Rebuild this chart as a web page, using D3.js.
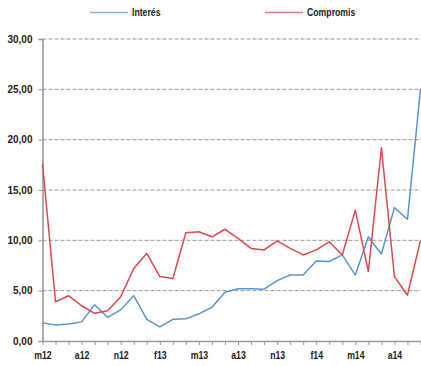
<!DOCTYPE html>
<html lang="en">
<head>
  <meta charset="utf-8" />
  <title>Interés / Compromis</title>
  <script src="https://cdn.jsdelivr.net/npm/d3@7"></script>
  <style>
body{
  margin: 0;
  background: #ffffff;
}
svg text{
  fill: #222;
}
.narrow{
  font-family: "Liberation Sans", Arial, sans-serif;
  font-weight: bold;
}
  </style>
</head>
<body>
  <svg></svg>
  <script>
  // one point per month, May 2012 .. October 2014
  var tickLabels = ['m12', 'a12', 'n12', 'f13', 'm13', 'a13', 'n13', 'f14', 'm14', 'a14'];
  var interes = [1.8, 1.6, 1.7, 1.9, 3.6, 2.35, 3.1, 4.5, 2.15, 1.4,
                 2.15, 2.2, 2.7, 3.35, 4.85, 5.2, 5.2, 5.15, 6.0, 6.55,
                 6.55, 7.95, 7.9, 8.55, 6.55, 10.35, 8.65, 13.25, 12.1, 25.0];
  var compromis = [17.6, 3.9, 4.5, 3.5, 2.75, 3.0, 4.4, 7.2, 8.7, 6.4,
                   6.2, 10.75, 10.85, 10.35, 11.1, 10.2, 9.2, 9.05, 9.95, 9.2,
                   8.55, 9.05, 9.85, 8.55, 13.0, 6.9, 19.2, 6.4, 4.55, 10.0];
  var yTicks = [0, 5, 10, 15, 20, 25, 30];

  var width = 421, height = 366;
  var squeeze = 0.83; // no Arial Narrow here, so squash the bold sans

  var svg = d3.select('svg')
      .attr('width', width)
      .attr('height', height);

  var x = d3.scaleLinear().domain([0, interes.length - 1]).range([42.5, 420.5]);
  var y = d3.scaleLinear().domain([0, 30]).range([341, 39]);

  var fmt = d => d3.format('.2f')(d).replace('.', ',');

  // dashed grid
  svg.append('g')
    .selectAll('line')
    .data(yTicks.filter(d => d > 0))
    .enter().append('line')
      .attr('x1', x(0))
      .attr('x2', width)
      .attr('y1', d => y(d))
      .attr('y2', d => y(d))
      .attr('stroke', '#9a9a9a')
      .attr('stroke-width', 1)
      .attr('stroke-dasharray', '4,2');

  // y axis
  var yAxis = svg.append('g')
      .attr('transform', 'translate(' + x(0) + ',0)')
      .call(d3.axisLeft(y).tickValues(yTicks).tickSize(4).tickPadding(6).tickFormat(fmt));
  yAxis.select('.domain').attr('stroke', '#999').attr('stroke-width', 1.6);
  yAxis.selectAll('.tick line').attr('stroke', '#999');
  yAxis.selectAll('text')
      .attr('font-family', '"Liberation Sans", Arial, sans-serif')
      .attr('font-weight', 'bold')
      .attr('font-size', 10)
      .attr('fill', '#222');

  // x axis
  var xAxis = svg.append('g')
      .attr('transform', 'translate(0,' + y(0) + ')')
      .call(d3.axisBottom(x)
        .tickValues(d3.range(interes.length))
        .tickSize(4)
        .tickSizeOuter(0)
        .tickFormat(i => i % 3 === 0 ? tickLabels[i / 3] : ''));
  xAxis.select('.domain').attr('stroke', '#999').attr('stroke-width', 1.6);
  xAxis.selectAll('.tick line').attr('stroke', '#999');
  xAxis.selectAll('text')
      .attr('class', 'narrow')
      .attr('font-size', 10.5)
      .attr('dy', '1.05em')
      .attr('transform', 'scale(' + squeeze + ',1)')
      .attr('fill', '#222');

  var line = d3.line()
      .x((d, i) => x(i))
      .y(d => y(d));

  var series = [
    {name: 'Interés', values: interes, color: '#5b96d0', lx: 90},
    {name: 'Compromis', values: compromis, color: '#e0474c', lx: 265}
  ];

  svg.append('g')
    .selectAll('path')
    .data(series)
    .enter().append('path')
      .attr('d', d => line(d.values))
      .attr('fill', 'none')
      .attr('stroke', d => d.color)
      .attr('stroke-width', 1.5)
      .attr('stroke-linejoin', 'round');

  // legend
  var legend = svg.append('g')
    .selectAll('g')
    .data(series)
    .enter().append('g')
      .attr('transform', d => 'translate(' + d.lx + ',12.5)');

  legend.append('line')
      .attr('x1', 0)
      .attr('x2', 38)
      .attr('stroke', d => d.color)
      .attr('stroke-opacity', 0.7)
      .attr('stroke-width', 1.5);

  legend.append('text')
      .attr('class', 'narrow')
      .attr('transform', 'translate(42,0) scale(' + squeeze + ',1)')
      .attr('dy', '0.35em')
      .attr('font-size', 10.5)
      .text(d => d.name);
  </script>
</body>
</html>
